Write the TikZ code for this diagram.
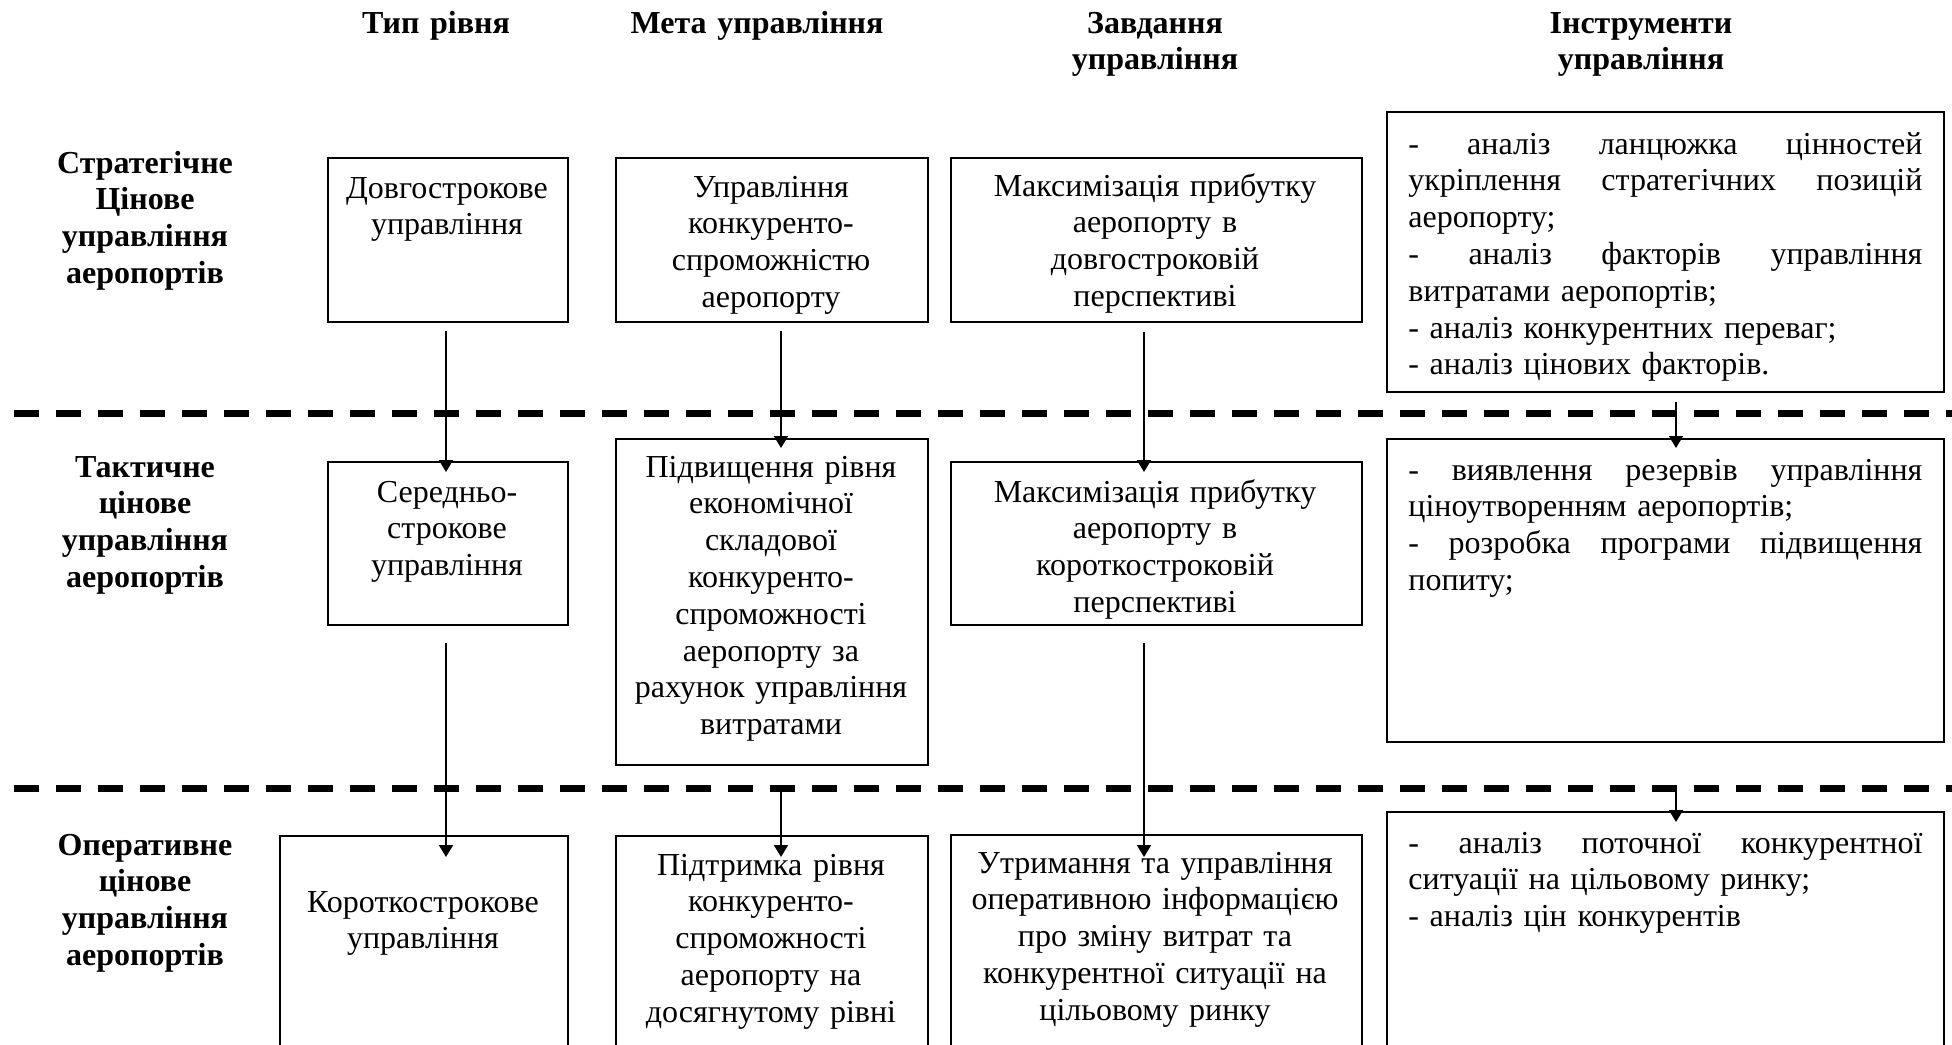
\documentclass[tikz,border=0pt]{standalone}
\usepackage{fontspec}
\setmainfont{Liberation Serif}
\usetikzlibrary{arrows.meta}
\begin{document}
\begin{tikzpicture}[x=0.5pt,y=-0.5pt,
  box/.style={draw, line width=1pt, inner sep=0pt, anchor=north west},
  txt/.style={inner sep=0pt, anchor=north, text width=215pt, align=center,
    font=\fontsize{16}{18.4}\selectfont, execute at begin node=\strut},
  hdr/.style={txt, font=\fontsize{16}{18.4}\selectfont\bfseries},
  lst/.style={inner sep=0pt, anchor=north west, text width=257pt, align=left,
    font=\fontsize{16}{18.4}\selectfont, execute at begin node=\strut},
  arr/.style={line width=1pt, -{Triangle[length=6pt,width=7pt]}},
  sep/.style={line width=3.5pt, dash pattern=on 12.5pt off 8.5pt}]
\clip (0,0) rectangle (1952,1044);

% column headers
\node[hdr] (h1) at (436,7) {Тип рівня};
\node[hdr] (h2) at (757,7) {Мета управління};
\node[hdr] (h3) at (1155,7) {Завдання\\управління};
\node[hdr] (h4) at (1641,7) {Інструменти\\управління};

% level labels
\node[hdr] (l1) at (145,147) {Стратегічне\\Цінове\\управління\\аеропортів};
\node[hdr] (l2) at (145,451) {Тактичне\\цінове\\управління\\аеропортів};
\node[hdr] (l3) at (145,829) {Оперативне\\цінове\\управління\\аеропортів};

% level separators
\coordinate (d1) at (14,413);
\coordinate (d1e) at (1975,413);
\coordinate (d2) at (14,788);
\coordinate (d2e) at (1975,788);
\draw[sep] (d1) -- (d1e);
\draw[sep] (d2) -- (d2e);

% strategic level
\node[box, minimum width=120pt, minimum height=82pt] (b11) at (327,157) {};
\node[box, minimum width=156pt, minimum height=82pt] (b12) at (615,157) {};
\node[box, minimum width=205.5pt, minimum height=82pt] (b13) at (950,157) {};
\node[box, minimum width=278.5pt, minimum height=140pt] (b14) at (1386,111) {};
\node[txt] (t11) at (447,172) {Довгострокове\\управління};
\node[txt] (t12) at (771,171) {Управління\\конкуренто-\\спроможністю\\аеропорту};
\node[txt] (t13) at (1155,170) {Максимізація прибутку\\аеропорту в\\довгостроковій\\перспективі};
\node[lst] (t14) at (1408,128) {-\hfill аналіз\hfill ланцюжка\hfill цінностей\\
укріплення\hfill стратегічних\hfill позицій\\
аеропорту;\\
-\hfill аналіз\hfill факторів\hfill управління\\
витратами аеропортів;\\
- аналіз конкурентних переваг;\\
- аналіз цінових факторів.};

% tactical level
\node[box, minimum width=120pt, minimum height=81.5pt] (b21) at (327,461) {};
\node[box, minimum width=156pt, minimum height=163pt] (b22) at (615,438) {};
\node[box, minimum width=205.5pt, minimum height=81.5pt] (b23) at (950,461) {};
\node[box, minimum width=278.5pt, minimum height=151.5pt] (b24) at (1386,438) {};
\node[txt] (t21) at (447,476) {Середньо-\\строкове\\управління};
\node[txt] (t22) at (771,451) {Підвищення рівня\\економічної\\складової\\конкуренто-\\спроможності\\аеропорту за\\рахунок управління\\витратами};
\node[txt] (t23) at (1155,476) {Максимізація прибутку\\аеропорту в\\короткостроковій\\перспективі};
\node[lst] (t24) at (1408,454) {-\hfill виявлення\hfill резервів\hfill управління\\
ціноутворенням аеропортів;\\
-\hfill розробка\hfill програми\hfill підвищення\\
попиту;};

% operational level
\node[box, minimum width=144pt, minimum height=117.5pt] (b31) at (279,835) {};
\node[box, minimum width=156pt, minimum height=117.5pt] (b32) at (615,835) {};
\node[box, minimum width=205.5pt, minimum height=118pt] (b33) at (950,834) {};
\node[box, minimum width=278.5pt, minimum height=129.5pt] (b34) at (1386,811) {};
\node[txt] (t31) at (423,886) {Короткострокове\\управління};
\node[txt] (t32) at (771,849) {Підтримка рівня\\конкуренто-\\спроможності\\аеропорту на\\досягнутому рівні};
\node[txt] (t33) at (1155,847) {Утримання та управління\\оперативною інформацією\\про зміну витрат та\\конкурентної ситуації на\\цільовому ринку};
\node[lst] (t34) at (1408,827) {-\hfill аналіз\hfill поточної\hfill конкурентної\\
ситуації на цільовому ринку;\\
- аналіз цін конкурентів};

% arrow columns
\coordinate (a1) at (446,0);
\coordinate (a2) at (781,0);
\coordinate (a3) at (1144,0);
\coordinate (a4) at (1676,0);

% connectors between levels
\draw[arr, shorten <=4pt, shorten >=-5.5pt] (b11.south -| a1) -- (b21.north -| a1);
\draw[arr, shorten <=8.5pt, shorten >=-11pt] (b21.south -| a1) -- (b31.north -| a1);
\draw[arr, shorten <=4pt, shorten >=-5pt] (b12.south -| a2) -- (b22.north -| a2);
\draw[arr, shorten >=-11pt] (d2 -| a2) -- (b32.north -| a2);
\draw[arr, shorten <=4.5pt, shorten >=-5.5pt] (b13.south -| a3) -- (b23.north -| a3);
\draw[arr, shorten <=8.5pt, shorten >=-11.5pt] (b23.south -| a3) -- (b33.north -| a3);
\draw[arr, shorten <=4.5pt, shorten >=-5pt] (b14.south -| a4) -- (b24.north -| a4);
\draw[arr, shorten >=-5.5pt] (d2 -| a4) -- (b34.north -| a4);
\end{tikzpicture}
\end{document}
